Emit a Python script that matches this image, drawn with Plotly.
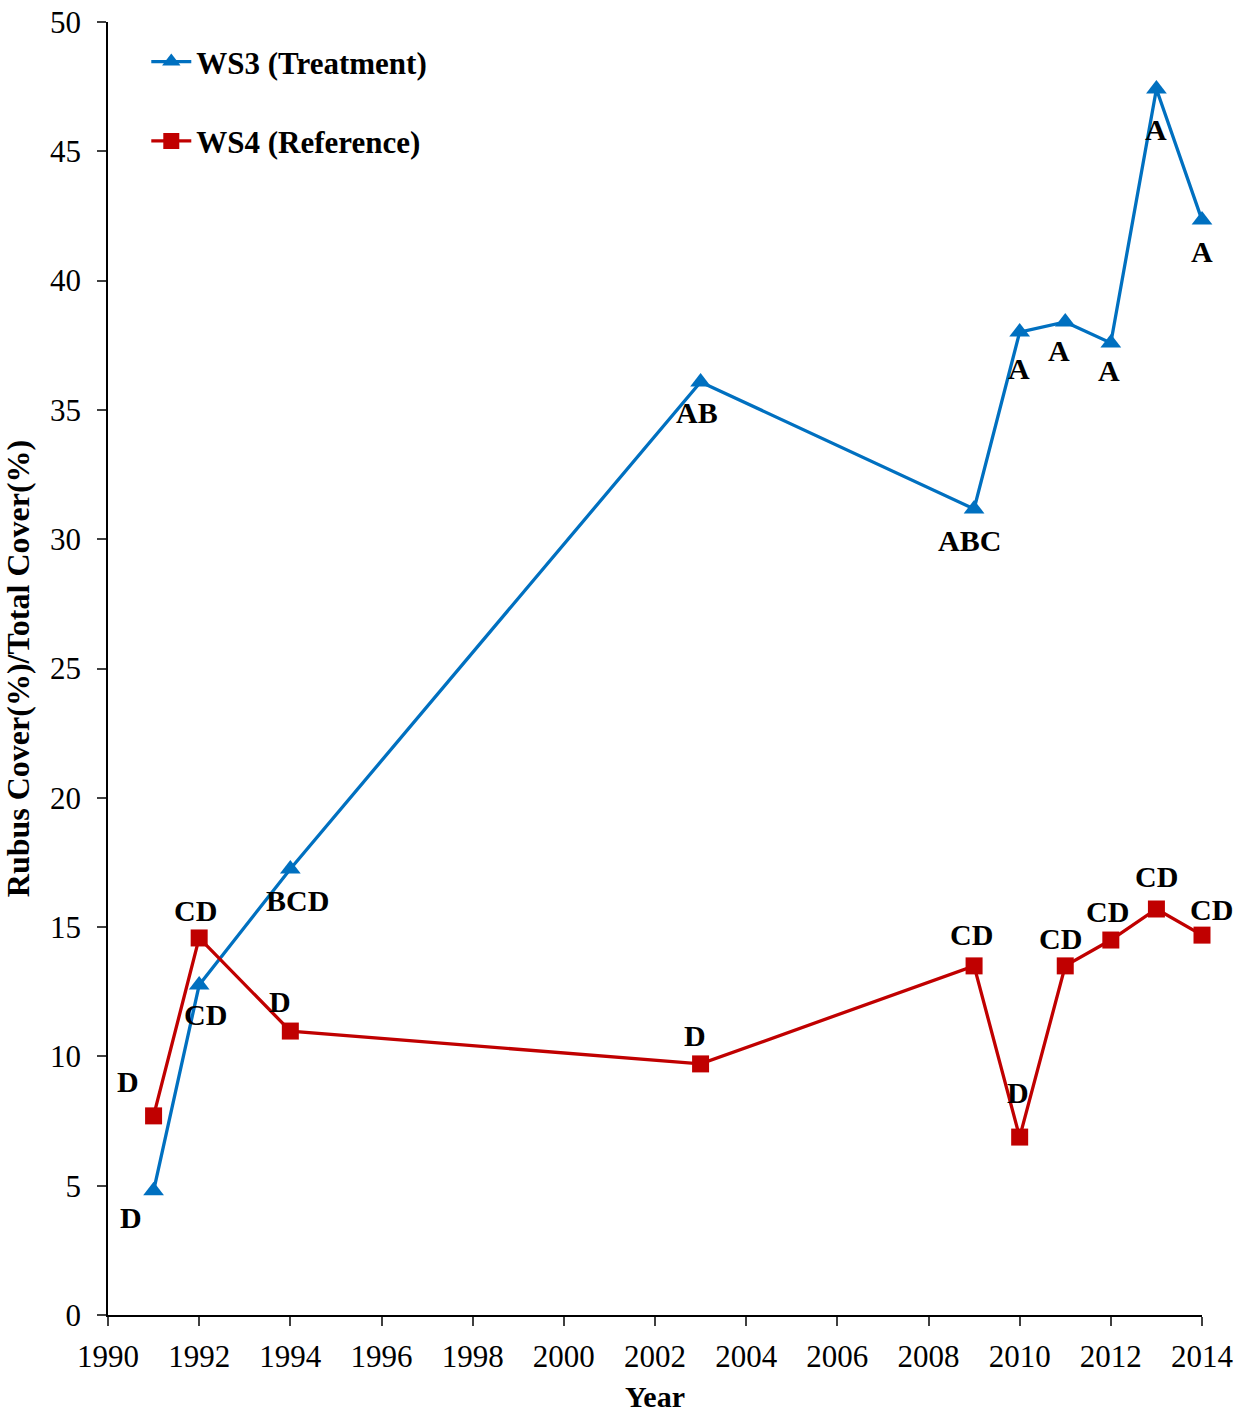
import plotly.graph_objects as go

# Survey years and cover ratios for the two watersheds
years = [1991, 1992, 1994, 2003, 2009, 2010, 2011, 2012, 2013, 2014]
ws3_cover = [4.8, 12.76, 17.25, 36.08, 31.17, 38.01, 38.4, 37.59, 47.41, 42.34]
ws4_cover = [7.7, 14.58, 10.98, 9.71, 13.5, 6.88, 13.5, 14.5, 15.7, 14.69]

# Significance group letters
ws3_letters = ["D", "CD", "BCD", "AB", "ABC", "A", "A", "A", "A", "A"]
ws4_letters = ["D", "CD", "D", "D", "CD", "D", "CD", "CD", "CD", "CD"]

# Pixel offsets of each letter from its marker
ws3_label_shift = [(-23, -27), (6, -29), (7, -32), (-4, -31), (-5, -32),
                   (-1, -36), (-6, -29), (-2, -28), (0, -41), (0, -31)]
ws4_label_shift = [(-26, 34), (-4, 27), (-10, 30), (-6, 28), (-3, 31),
                   (-2, 45), (-5, 27), (-3, 29), (0, 33), (9, 26)]

BLUE = "#0070C0"
RED = "#C00000"
SERIF = "Liberation Serif, Times New Roman, serif"

fig = go.Figure()
fig.add_trace(go.Scatter(
    x=years, y=ws3_cover, mode="lines+markers", name="<b>WS3 (Treatment)</b>",
    legendgroup="ws3", cliponaxis=False,
    line=dict(color=BLUE, width=3.3),
    marker=dict(symbol="triangle-up", size=18, color=BLUE),
))
fig.add_trace(go.Scatter(
    x=years, y=ws4_cover, mode="lines+markers", name="<b>WS4 (Reference)</b>",
    legendgroup="ws4", cliponaxis=False,
    line=dict(color=RED, width=3.3),
    marker=dict(symbol="square", size=17, color=RED),
))

for xv, yv, txt, (dx, dy) in zip(years, ws3_cover, ws3_letters, ws3_label_shift):
    fig.add_annotation(x=xv, y=yv, text=f"<b>{txt}</b>", showarrow=False,
                       xshift=dx, yshift=dy,
                       font=dict(family=SERIF, size=30, color="black"))
for xv, yv, txt, (dx, dy) in zip(years, ws4_cover, ws4_letters, ws4_label_shift):
    fig.add_annotation(x=xv, y=yv, text=f"<b>{txt}</b>", showarrow=False,
                       xshift=dx, yshift=dy,
                       font=dict(family=SERIF, size=30, color="black"))

axis_common = dict(
    showline=True, linecolor="black", linewidth=1.5,
    ticks="outside", ticklen=9, tickwidth=1.5, tickcolor="#404040",
    showgrid=False, zeroline=False, automargin=False,
    tickfont=dict(family=SERIF, size=31, color="black"),
)

fig.update_layout(
    width=1245, height=1414,
    paper_bgcolor="white", plot_bgcolor="white",
    margin=dict(l=108, r=43, t=22, b=99),
    xaxis=dict(range=[1990, 2014], tickmode="linear", tick0=1990, dtick=2,
               ticklabelstandoff=4,
               title=dict(text="<b>Year</b>", standoff=13,
                          font=dict(family=SERIF, size=30, color="black")),
               **axis_common),
    yaxis=dict(range=[0, 50], tickmode="linear", tick0=0, dtick=5,
               ticklabelstandoff=10,
               title=dict(text="<b>Rubus Cover(%)/Total Cover(%)</b>", standoff=14,
                          font=dict(family=SERIF, size=32, color="black")),
               **axis_common),
    showlegend=True,
    legend=dict(x=0.035, y=0.99, xanchor="left", yanchor="top",
                bgcolor="rgba(0,0,0,0)", tracegroupgap=36,
                font=dict(family=SERIF, size=31, color="black"),
                itemwidth=40),
    font=dict(family=SERIF),
)

fig.write_html("out.html")
